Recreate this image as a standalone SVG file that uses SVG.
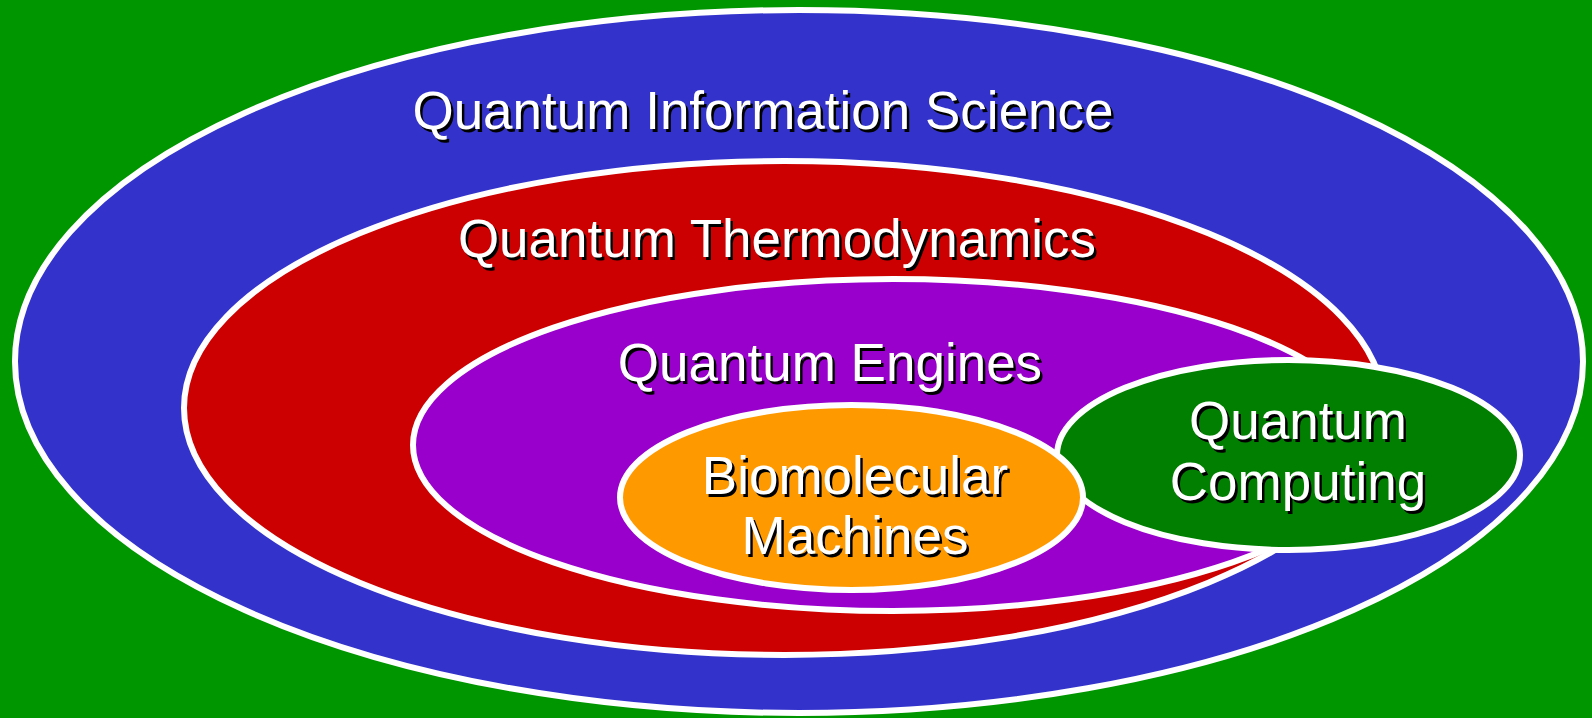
<svg xmlns="http://www.w3.org/2000/svg" width="1592" height="718" viewBox="0 0 1592 718">
  <style>
    .ring { stroke: #FFFFFF; stroke-width: 6; }
    .lbl { font-family: "Liberation Sans", Arial, sans-serif; font-size: 53px; text-anchor: middle; }
    .sh { fill: #000000; }
    .fg { fill: #FFFFFF; }
  </style>
  <defs>
    <g id="t-qis"><text x="763" y="129">Quantum Information Science</text></g>
    <g id="t-qt"><text x="777" y="257">Quantum Thermodynamics</text></g>
    <g id="t-qe"><text x="830" y="381">Quantum Engines</text></g>
    <g id="t-bm"><text x="855" y="494">Biomolecular</text><text x="855" y="554">Machines</text></g>
    <g id="t-qc"><text x="1298" y="439">Quantum</text><text x="1298" y="500">Computing</text></g>
  </defs>
  <rect id="background" x="0" y="0" width="1592" height="718" fill="#009600"/>

  <g id="quantum-information-science">
    <ellipse class="ring" cx="799" cy="361.5" rx="784" ry="351.5" fill="#3333CC"/>
  </g>
  <g id="quantum-thermodynamics">
    <ellipse class="ring" cx="784" cy="408" rx="600" ry="247" fill="#CC0000"/>
  </g>
  <g id="quantum-engines">
    <ellipse class="ring" cx="893" cy="445" rx="480" ry="166" fill="#9900CC"/>
  </g>
  <g id="quantum-computing">
    <ellipse class="ring" cx="1288.5" cy="455" rx="231.5" ry="95" fill="#007F00"/>
  </g>
  <g id="biomolecular-machines">
    <ellipse class="ring" cx="851.5" cy="497.5" rx="231.5" ry="92.5" fill="#FF9900"/>
  </g>

  <g id="labels" class="lbl">
    <use href="#t-qis" class="sh" x="2.5" y="2.5"/>
    <use href="#t-qis" class="fg"/>
    <use href="#t-qt" class="sh" x="2.5" y="2.5"/>
    <use href="#t-qt" class="fg"/>
    <use href="#t-qe" class="sh" x="2.5" y="2.5"/>
    <use href="#t-qe" class="fg"/>
    <use href="#t-bm" class="sh" x="2.5" y="2.5"/>
    <use href="#t-bm" class="fg"/>
    <use href="#t-qc" class="sh" x="2.5" y="2.5"/>
    <use href="#t-qc" class="fg"/>
  </g>
</svg>
